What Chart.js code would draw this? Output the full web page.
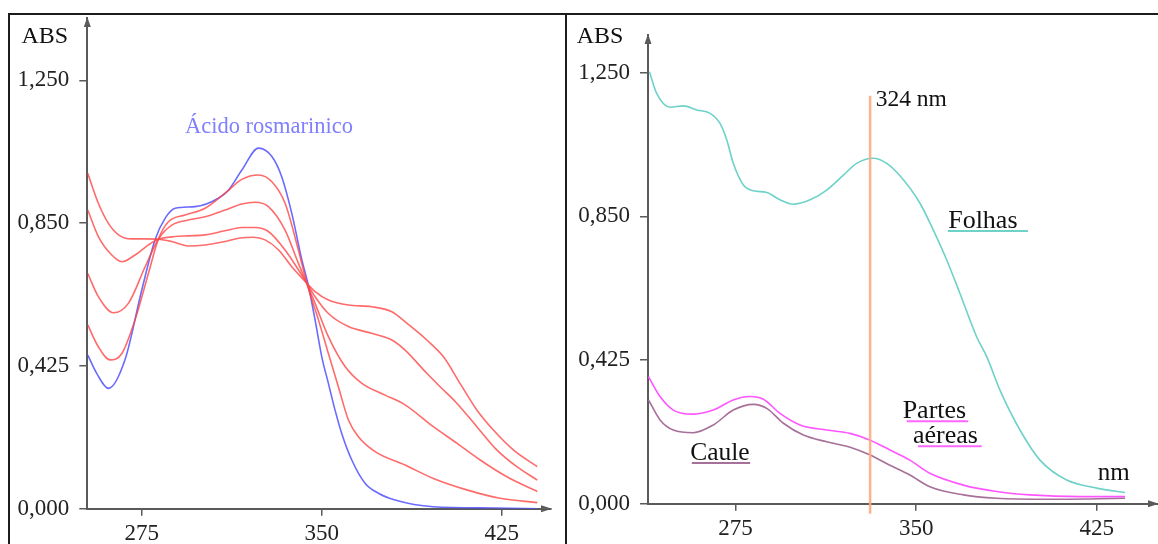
<!DOCTYPE html>
<html>
<head>
<meta charset="utf-8">
<script src="https://cdn.jsdelivr.net/npm/chart.js@4.4.1/dist/chart.umd.min.js"></script>
<style>
  html, body { margin: 0; padding: 0; background: #fff; }
  body { width: 1158px; height: 544px; position: relative; overflow: hidden; }
  .rule { position: absolute; background: #1c1c1c; }
  .panel { position: absolute; }
</style>
</head>
<body>
<div class="rule" style="left:8px;top:13px;width:1150px;height:2px"></div>
<div class="rule" style="left:8px;top:13px;width:2px;height:531px"></div>
<div class="rule" style="left:565px;top:13px;width:2px;height:531px"></div>
<div class="panel" style="left:10px;top:15px"><canvas id="chartLeft" width="555" height="529"></canvas></div>
<div class="panel" style="left:567px;top:15px"><canvas id="chartRight" width="591" height="529"></canvas></div>

<script>
// tick values / labels (both panels share them)
const xTickValues = [275, 350, 425];
const yTickValues = [0, 0.425, 0.85, 1.275];
const yTickLabels = ["0,000", "0,425", "0,850", "1,250"];

// left panel: rosmarinic acid (blue) and four red spectra
const rosmNm = [252.5, 256.2, 261.1, 268, 275, 280.5, 284.7, 288.9, 297.2, 306.9, 311.1, 316.7, 323.6, 329.2, 333.3, 337.5, 341.7, 344.2, 347.2, 350, 352.75, 355.5, 358.3, 362.5, 368, 373.6, 380.5, 396.4, 421.4, 440];
const rosmAbs = [0.457, 0.403, 0.358, 0.443, 0.651, 0.800, 0.864, 0.894, 0.899, 0.924, 0.948, 1.008, 1.073, 1.048, 0.988, 0.879, 0.740, 0.671, 0.562, 0.452, 0.373, 0.294, 0.224, 0.145, 0.076, 0.046, 0.026, 0.006, 0.002, 0.0];

const red1Nm = [252.5, 256.9, 261.1, 265.3, 270.8, 276.4, 281.9, 287.5, 294.4, 301.4, 309.7, 315.3, 321.5, 326.4, 332, 337.5, 343.75, 347.2, 352.75, 361.1, 370.8, 379.2, 385.4, 393.75, 400.7, 407.6, 414.6, 421.5, 429.8, 439.8];
const red1Abs = [0.998, 0.909, 0.849, 0.815, 0.803, 0.803, 0.802, 0.795, 0.782, 0.785, 0.795, 0.805, 0.808, 0.800, 0.770, 0.720, 0.671, 0.646, 0.621, 0.606, 0.601, 0.586, 0.552, 0.502, 0.452, 0.373, 0.294, 0.234, 0.175, 0.125];

const red2Nm = [252.5, 256.9, 262.5, 266.7, 272.2, 277.75, 281.9, 288.9, 294.4, 301.4, 309.7, 316.7, 322.2, 327.75, 334.7, 340.25, 343.75, 347.2, 352.75, 361.1, 370.8, 379.2, 384.7, 393.75, 399.3, 406.25, 414.6, 422.9, 431.25, 439.8];
const red2Abs = [0.889, 0.810, 0.755, 0.735, 0.755, 0.785, 0.802, 0.810, 0.812, 0.815, 0.827, 0.837, 0.837, 0.825, 0.770, 0.711, 0.671, 0.631, 0.581, 0.542, 0.522, 0.502, 0.472, 0.403, 0.363, 0.314, 0.244, 0.175, 0.125, 0.085];

const red3Nm = [252.5, 256.9, 263.2, 269.4, 276.4, 281.9, 287.5, 294.4, 301.4, 309.7, 316.7, 322.2, 327.75, 334.7, 340.25, 343.75, 347.2, 352.75, 359.7, 366.7, 376.4, 384.7, 396.5, 406.25, 416, 427.1, 439.8];
const red3Abs = [0.700, 0.631, 0.583, 0.611, 0.720, 0.802, 0.844, 0.859, 0.869, 0.889, 0.907, 0.912, 0.899, 0.829, 0.730, 0.671, 0.611, 0.512, 0.423, 0.373, 0.338, 0.309, 0.244, 0.195, 0.145, 0.095, 0.051];

const red4Nm = [252.5, 256.9, 261.8, 266.7, 272.2, 277.75, 281.9, 286.1, 293, 301.4, 309.7, 316.7, 323.6, 329.2, 334.7, 340.25, 343.75, 348.6, 352.75, 356.9, 361.1, 365.25, 372.2, 384.7, 396.5, 410.4, 424.3, 439.8];
const red4Abs = [0.547, 0.482, 0.443, 0.462, 0.562, 0.700, 0.802, 0.854, 0.874, 0.894, 0.939, 0.980, 0.993, 0.973, 0.909, 0.770, 0.671, 0.562, 0.462, 0.363, 0.264, 0.214, 0.170, 0.130, 0.090, 0.056, 0.031, 0.018];

// right panel: plant extracts
const folhasNm = [239.3, 242.3, 247.9, 253.4, 258.9, 264.5, 268.6, 271.4, 274.1, 278.3, 282.4, 288, 293.5, 299, 306, 312.9, 319.8, 325.3, 332.2, 337.8, 343.3, 351.6, 357.1, 362.7, 368.2, 375.1, 379.3, 384.8, 393.1, 401.4, 412.5, 425, 436.7];
const folhasAbs = [1.278, 1.214, 1.173, 1.177, 1.165, 1.155, 1.125, 1.076, 1.007, 0.943, 0.926, 0.921, 0.899, 0.886, 0.899, 0.928, 0.972, 1.007, 1.022, 1.007, 0.970, 0.889, 0.810, 0.721, 0.622, 0.494, 0.435, 0.336, 0.218, 0.129, 0.070, 0.046, 0.033];

const partesNm = [238.9, 243.7, 249.2, 257.5, 265.8, 274.1, 281, 286.6, 293.5, 301.8, 312.9, 322.6, 330.9, 339.1, 347.4, 355.7, 369.6, 383.4, 397.2, 418, 436.7];
const partesAbs = [0.376, 0.317, 0.277, 0.265, 0.277, 0.307, 0.317, 0.309, 0.267, 0.233, 0.218, 0.208, 0.188, 0.159, 0.129, 0.090, 0.055, 0.036, 0.026, 0.021, 0.021];

const cauleNm = [238.9, 243.7, 249.2, 257.5, 265.8, 274.1, 282.4, 288, 294.9, 303.2, 312.9, 322.6, 330.9, 339.1, 347.4, 355.7, 369.6, 383.4, 404.2, 436.7];
const cauleAbs = [0.307, 0.248, 0.218, 0.210, 0.233, 0.277, 0.294, 0.282, 0.238, 0.203, 0.183, 0.167, 0.144, 0.114, 0.085, 0.050, 0.026, 0.016, 0.013, 0.016];

// vertical marker (drawn where it sits in the picture, labelled 324 nm)
const markerNm = [330.9, 330.9];
const markerAbs = [1.207, -0.03];

const SERIF = "'Liberation Serif', 'Times New Roman', serif";
const AXIS = "#5a5a5a";

function pts(xs, ys) {
  return xs.map((x, i) => ({ x, y: ys[i] }));
}

function line(data, color, width) {
  return {
    data,
    borderColor: color,
    borderWidth: width || 1.6,
    pointRadius: 0,
    fill: false,
    cubicInterpolationMode: "monotone",
  };
}

// arrow heads + free text labels
const decor = {
  id: "decor",
  afterDraw(chart, args, opts) {
    const { ctx, chartArea: a, scales } = chart;
    ctx.save();
    ctx.fillStyle = AXIS;
    ctx.beginPath();
    ctx.moveTo(a.left, a.top - 1);
    ctx.lineTo(a.left - 3.5, a.top + 9);
    ctx.lineTo(a.left + 3.5, a.top + 9);
    ctx.closePath();
    ctx.fill();
    ctx.beginPath();
    ctx.moveTo(a.right + 1, a.bottom);
    ctx.lineTo(a.right - 10, a.bottom - 3.5);
    ctx.lineTo(a.right - 10, a.bottom + 3.5);
    ctx.closePath();
    ctx.fill();

    ctx.textBaseline = "alphabetic";
    ctx.textAlign = "left";
    ctx.fillStyle = "#111";
    ctx.font = "24px " + SERIF;
    ctx.fillText("ABS", opts.absX, opts.absY);

    (opts.labels || []).forEach((l) => {
      const x = scales.x.getPixelForValue(l.nm);
      const y = scales.y.getPixelForValue(l.abs);
      ctx.font = l.size + "px " + SERIF;
      ctx.fillStyle = l.color || "#111";
      ctx.fillText(l.text, x, y);
      if (l.under) {
        const x0 = scales.x.getPixelForValue(l.under[0]);
        const x1 = scales.x.getPixelForValue(l.under[1]);
        ctx.strokeStyle = l.underColor;
        ctx.lineWidth = 2;
        ctx.beginPath();
        ctx.moveTo(x0, y + 3);
        ctx.lineTo(x1, y + 3);
        ctx.stroke();
      }
    });
    ctx.restore();
  },
};

function scalesFor(xMin, xMax, yMax, yWidth, xHeight) {
  return {
    x: {
      type: "linear",
      min: xMin,
      max: xMax,
      afterBuildTicks: (s) => { s.ticks = xTickValues.map((v) => ({ value: v })); },
      afterFit: (s) => {
        s.height = xHeight;
        s.paddingLeft = 0;
        s.paddingRight = 0;
      },
      ticks: { color: "#222", font: { family: SERIF, size: 23 }, padding: 4, maxRotation: 0, autoSkip: false },
      grid: { drawOnChartArea: false, tickLength: 7, color: AXIS, lineWidth: 1.5 },
      border: { color: AXIS, width: 2 },
    },
    y: {
      min: 0,
      max: yMax,
      afterBuildTicks: (s) => { s.ticks = yTickValues.map((v) => ({ value: v })); },
      afterFit: (s) => {
        s.width = yWidth;
        s.paddingTop = 0;
        s.paddingBottom = 0;
      },
      ticks: {
        color: "#222",
        font: { family: SERIF, size: 23 },
        padding: 10,
        callback: (v, i) => yTickLabels[i],
      },
      grid: { drawOnChartArea: false, tickLength: 8, color: AXIS, lineWidth: 1.5 },
      border: { color: AXIS, width: 2 },
    },
  };
}

const baseOpts = {
  responsive: false,
  animation: false,
  events: [],
};

new Chart(document.getElementById("chartLeft").getContext("2d"), {
  type: "line",
  data: {
    datasets: [
      line(pts(red1Nm, red1Abs), "rgba(255, 70, 70, 0.8)"),
      line(pts(red2Nm, red2Abs), "rgba(255, 70, 70, 0.8)"),
      line(pts(red3Nm, red3Abs), "rgba(255, 70, 70, 0.8)"),
      line(pts(red4Nm, red4Abs), "rgba(255, 70, 70, 0.8)"),
      line(pts(rosmNm, rosmAbs), "rgba(80, 80, 255, 0.85)"),
    ],
  },
  options: {
    ...baseOpts,
    layout: { padding: { top: 3, right: 14, left: 0, bottom: 0 } },
    scales: scalesFor(252.3, 445.5, 1.4604, 77.3, 35.3),
    plugins: {
      legend: { display: false },
      tooltip: { enabled: false },
      decor: {
        absX: 11.5,
        absY: 27.7,
        labels: [
          { text: "Ácido rosmarinico", nm: 293.0, abs: 1.117, size: 22.5, color: "#7f7fff" },
        ],
      },
    },
  },
  plugins: [decor],
});

new Chart(document.getElementById("chartRight").getContext("2d"), {
  type: "line",
  data: {
    datasets: [
      Object.assign(line(pts(markerNm, markerAbs), "rgba(255, 170, 130, 0.9)", 2.5), { clip: false }),
      line(pts(cauleNm, cauleAbs), "#a77099"),
      line(pts(partesNm, partesAbs), "#ff55ff"),
      line(pts(folhasNm, folhasAbs), "#6dd2c8"),
    ],
  },
  options: {
    ...baseOpts,
    layout: { padding: { top: 20, right: 0, left: 0, bottom: 0 } },
    scales: scalesFor(238.7, 450.4, 1.3867, 81, 40.3),
    plugins: {
      legend: { display: false },
      tooltip: { enabled: false },
      decor: {
        absX: 9.7,
        absY: 27.7,
        labels: [
          { text: "324 nm", nm: 333.2, abs: 1.177, size: 23.5 },
          { text: "Folhas", nm: 363.3, abs: 0.816, size: 26, under: [363.2, 396.4], underColor: "#6dd2c8" },
          { text: "Partes", nm: 344.4, abs: 0.253, size: 26, under: [346.1, 371.6], underColor: "#ff66ff" },
          { text: "aéreas", nm: 348.7, abs: 0.179, size: 26, under: [350.8, 377.2], underColor: "#ff66ff" },
          { text: "Caule", nm: 256.2, abs: 0.129, size: 25.5, under: [256.9, 281.1], underColor: "#a77099" },
          { text: "nm", nm: 425.4, abs: 0.070, size: 25 },
        ],
      },
    },
  },
  plugins: [decor],
});
</script>
</body>
</html>
